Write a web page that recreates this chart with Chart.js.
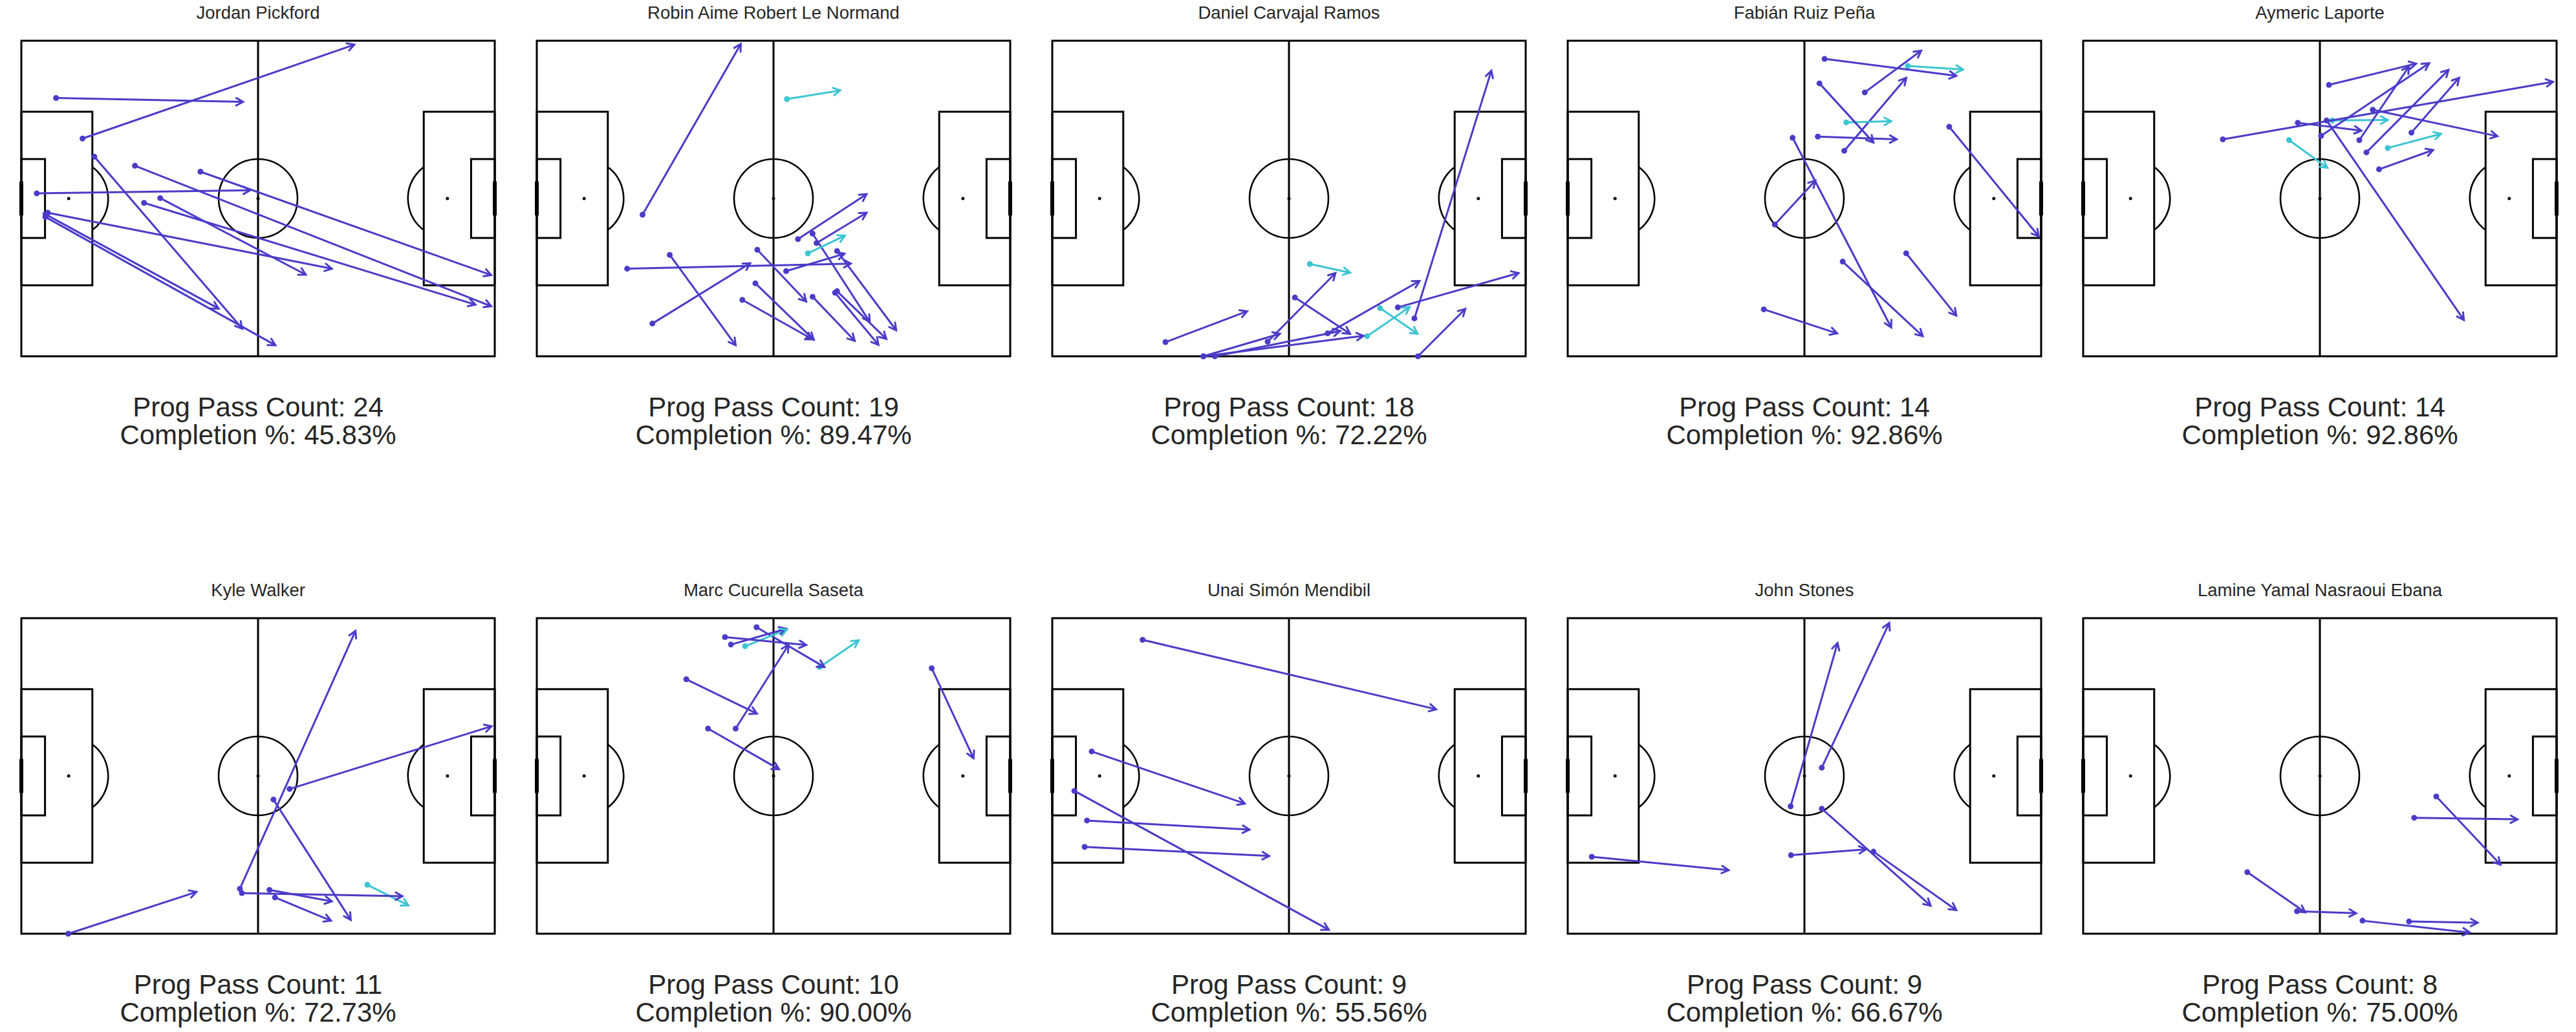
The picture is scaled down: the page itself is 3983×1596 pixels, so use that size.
<!DOCTYPE html>
<html>
<head>
<meta charset="utf-8">
<script src="https://cdn.jsdelivr.net/npm/chart.js@4.4.1/dist/chart.umd.min.js"></script>
<style>
  html, body { margin: 0; padding: 0; background: #fff; }
  body { width: 3983px; height: 1596px; position: relative; overflow: hidden; font-family: "Liberation Sans", Arial, sans-serif; color: #262626; }
  .title { position: absolute; width: 760px; text-align: center; font-size: 27.5px; line-height: 27.5px; white-space: nowrap; }
  .stats { position: absolute; width: 760px; text-align: center; font-size: 42px; line-height: 43px; white-space: nowrap; }
  canvas { position: absolute; }
</style>
</head>
<body>
<script>
// players in plot order (row by row)
const players = [
  "Jordan Pickford", "Robin Aime Robert Le Normand", "Daniel Carvajal Ramos",
  "Fabián Ruiz Peña", "Aymeric Laporte", "Kyle Walker", "Marc Cucurella Saseta",
  "Unai Simón Mendibil", "John Stones", "Lamine Yamal Nasraoui Ebana"
];
const progPassCounts = [24, 19, 18, 14, 14, 11, 10, 9, 9, 8];
const completionPcts = [45.83, 89.47, 72.22, 92.86, 92.86, 72.73, 90.00, 55.56, 66.67, 75.00];

// completed progressive passes: [x, y, endX, endY, kind]  (kind 1 = cyan)
const pickfordPasses = [
  [8.8, 14.5, 56.2, 15.5, 0], [15.5, 24.8, 84.4, 1.0, 0], [18.5, 29.4, 56.0, 73.0, 0],
  [3.9, 38.7, 58.0, 37.9, 0], [28.8, 31.7, 119.1, 67.3, 0], [45.4, 33.2, 119.1, 59.4, 0],
  [35.2, 39.9, 72.1, 59.3, 0], [31.1, 41.1, 115.1, 66.9, 0], [6.7, 43.6, 78.7, 57.8, 0],
  [6.1, 44.0, 50.0, 67.9, 0], [6.1, 44.7, 64.4, 77.2, 0]
];
const leNormandPasses = [
  [26.8, 44.1, 51.7, 0.8, 0], [63.4, 14.8, 76.9, 12.6, 1], [66.2, 50.3, 83.6, 38.9, 0],
  [70.9, 51.3, 83.6, 43.6, 0], [68.7, 53.9, 78.1, 49.4, 1], [69.9, 48.9, 84.4, 71.3, 0],
  [76.1, 53.3, 91.1, 73.4, 0], [63.2, 58.4, 78.0, 54.0, 0], [22.9, 57.8, 79.6, 56.5, 0],
  [29.3, 71.7, 54.1, 56.4, 0], [33.7, 54.3, 50.4, 77.2, 0], [55.9, 53.0, 68.3, 66.1, 0],
  [55.4, 61.5, 70.2, 75.8, 0], [52.1, 65.7, 69.9, 75.7, 0], [69.9, 64.9, 80.6, 76.1, 0],
  [75.6, 63.9, 86.6, 77.1, 0], [76.1, 63.5, 88.6, 75.6, 0]
];
const carvajalPasses = [
  [28.7, 76.4, 49.4, 68.6, 0], [54.6, 76.3, 71.8, 58.9, 0], [65.3, 56.6, 75.5, 58.8, 1],
  [69.8, 74.2, 93.1, 60.9, 0], [91.8, 70.4, 111.3, 7.6, 0], [87.6, 67.6, 118.2, 58.9, 0],
  [92.7, 80.0, 104.7, 68.0, 0], [79.8, 74.9, 90.6, 67.5, 1], [83.1, 67.8, 92.6, 74.3, 1],
  [61.5, 65.1, 75.5, 74.3, 0], [38.3, 80.0, 57.7, 74.3, 0], [41.2, 80.0, 73.0, 73.6, 0],
  [38.3, 80.0, 78.9, 74.8, 0]
];
const ruizPasses = [
  [65.1, 4.6, 98.5, 8.9, 0], [75.3, 13.1, 89.6, 2.5, 0], [86.2, 6.4, 100.2, 7.3, 1],
  [63.8, 10.8, 77.5, 25.8, 0], [70.6, 20.7, 82.0, 20.4, 1], [63.4, 24.3, 83.4, 25.0, 0],
  [70.1, 27.9, 85.8, 9.4, 0], [57.0, 24.6, 82.0, 72.7, 0], [52.5, 46.6, 62.8, 35.4, 0],
  [96.7, 21.8, 119.4, 49.6, 0], [85.8, 53.9, 98.5, 69.7, 0], [69.7, 56.0, 90.0, 74.9, 0],
  [49.7, 68.1, 68.3, 74.2, 0]
];
const laportePasses = [
  [62.3, 11.2, 84.4, 5.8, 0], [60.3, 24.1, 87.7, 5.7, 0], [70.0, 25.2, 82.6, 6.5, 0],
  [71.8, 28.3, 92.6, 7.4, 0], [83.2, 23.3, 95.3, 9.4, 0], [35.4, 25.0, 119.1, 10.4, 0],
  [73.4, 17.5, 105.0, 24.2, 0], [63.1, 20.2, 77.2, 20.1, 1], [54.4, 20.8, 70.5, 22.8, 0],
  [77.2, 27.2, 90.7, 23.6, 1], [75.0, 32.6, 88.7, 27.7, 0], [52.2, 25.2, 61.9, 32.2, 1],
  [61.7, 20.2, 96.5, 70.8, 0]
];
const walkerPasses = [
  [11.9, 80.0, 44.4, 69.4, 0], [55.4, 68.6, 84.7, 3.2, 0], [68.0, 43.3, 119.2, 27.4, 0],
  [55.9, 69.7, 96.6, 70.5, 0], [62.9, 68.9, 78.7, 71.8, 0], [64.3, 70.8, 78.5, 76.7, 0],
  [63.9, 46.0, 83.5, 76.5, 0], [87.7, 67.6, 98.1, 72.8, 1]
];
const cucurellaPasses = [
  [49.2, 6.7, 63.2, 2.7, 0], [47.7, 4.8, 68.3, 6.8, 0], [52.8, 7.1, 63.4, 2.9, 1],
  [55.7, 2.3, 72.9, 12.4, 0], [71.7, 12.4, 81.6, 5.6, 1], [37.9, 15.5, 55.8, 24.2, 0],
  [50.4, 28.0, 63.8, 6.8, 0], [43.4, 28.0, 61.4, 38.3, 0], [100.1, 12.7, 110.7, 35.5, 0]
];
const simonPasses = [
  [22.9, 5.5, 97.3, 23.1, 0], [10.0, 33.8, 48.8, 47.0, 0], [5.6, 43.8, 70.1, 79.0, 0],
  [8.8, 51.3, 50.0, 53.6, 0], [8.2, 58.0, 55.0, 60.3, 0]
];
const stonesPasses = [
  [56.5, 47.7, 68.4, 6.3, 0], [64.4, 37.9, 81.5, 1.2, 0], [64.4, 48.3, 92.0, 72.9, 0],
  [77.5, 59.2, 98.5, 74.0, 0], [56.6, 60.1, 75.6, 58.6, 0], [6.1, 60.5, 40.8, 63.9, 0]
];
const yamalPasses = [
  [89.5, 45.2, 105.8, 62.5, 0], [83.9, 50.6, 110.1, 51.0, 0], [41.6, 64.4, 56.3, 74.6, 0],
  [54.2, 74.3, 69.2, 74.8, 0], [70.8, 76.7, 98.0, 79.7, 0], [82.6, 76.9, 100.0, 77.2, 0]
];

const passSets = [
  pickfordPasses, leNormandPasses, carvajalPasses, ruizPasses, laportePasses,
  walkerPasses, cucurellaPasses, simonPasses, stonesPasses, yamalPasses
];
const passColors = ["#4b3bc8", "#3cc5d2"];

// panel layout (px)
const PITCH_W = 732, PITCH_H = 488, PAD = 16;
const COL_STEP = 797, ROW_STEP = 893;
const FIRST_LEFT = 33, FIRST_TOP = 63;

// pitch markings drawn in data units (StatsBomb 120 x 80)
const pitchPlugin = {
  id: "pitch",
  beforeDatasetsDraw(chart) {
    const { ctx } = chart;
    const xs = chart.scales.x, ys = chart.scales.y;
    const px = v => xs.getPixelForValue(v);
    const py = v => ys.getPixelForValue(v);
    const unit = px(1) - px(0);

    ctx.save();
    ctx.strokeStyle = "#000";
    ctx.lineWidth = 3;
    ctx.lineJoin = "miter";

    const rect = (x0, y0, x1, y1) => {
      ctx.strokeRect(px(x0), py(y0), px(x1) - px(x0), py(y1) - py(y0));
    };
    rect(0, 0, 120, 80);
    rect(0, 18, 18, 62);
    rect(102, 18, 120, 62);
    rect(0, 30, 6, 50);
    rect(114, 30, 120, 50);

    ctx.beginPath();
    ctx.moveTo(px(60), py(0));
    ctx.lineTo(px(60), py(80));
    ctx.stroke();

    ctx.lineWidth = 2.6;
    ctx.beginPath();
    ctx.arc(px(60), py(40), 10 * unit, 0, Math.PI * 2);
    ctx.stroke();

    const a = Math.acos(6 / 10);
    ctx.beginPath();
    ctx.arc(px(12), py(40), 10 * unit, -a, a);
    ctx.stroke();
    ctx.beginPath();
    ctx.arc(px(108), py(40), 10 * unit, Math.PI - a, Math.PI + a);
    ctx.stroke();

    // goals
    ctx.lineWidth = 6;
    ctx.lineCap = "round";
    ctx.beginPath();
    ctx.moveTo(px(0), py(36)); ctx.lineTo(px(0), py(44));
    ctx.moveTo(px(120), py(36)); ctx.lineTo(px(120), py(44));
    ctx.stroke();

    // spots
    ctx.fillStyle = "#000";
    [12, 60, 108].forEach(sx => {
      ctx.beginPath();
      ctx.arc(px(sx), py(40), 2.5, 0, Math.PI * 2);
      ctx.fill();
    });
    ctx.restore();
  }
};

// open arrow heads at the end point of every pass
const arrowPlugin = {
  id: "arrowHeads",
  afterDatasetsDraw(chart) {
    const { ctx } = chart;
    chart.data.datasets.forEach((ds, i) => {
      const pts = chart.getDatasetMeta(i).data;
      if (pts.length < 2) return;
      const x0 = pts[0].x, y0 = pts[0].y, x1 = pts[1].x, y1 = pts[1].y;
      const ang = Math.atan2(y1 - y0, x1 - x0);
      const len = 12, spread = 0.5;
      ctx.save();
      ctx.strokeStyle = ds.borderColor;
      ctx.lineWidth = 3;
      ctx.lineCap = "round";
      ctx.beginPath();
      ctx.moveTo(x1 - len * Math.cos(ang - spread), y1 - len * Math.sin(ang - spread));
      ctx.lineTo(x1, y1);
      ctx.lineTo(x1 - len * Math.cos(ang + spread), y1 - len * Math.sin(ang + spread));
      ctx.stroke();
      ctx.restore();
    });
  }
};

function createPassMap(idx) {
  const col = idx % 5, row = Math.floor(idx / 5);
  const left = FIRST_LEFT + col * COL_STEP;
  const top = FIRST_TOP + row * ROW_STEP;
  const centre = left + PITCH_W / 2;

  const title = document.createElement("div");
  title.className = "title";
  title.style.left = (centre - 380) + "px";
  title.style.top = (6 + row * ROW_STEP) + "px";
  title.textContent = players[idx];
  document.body.appendChild(title);

  const stats = document.createElement("div");
  stats.className = "stats";
  stats.style.left = (centre - 380) + "px";
  stats.style.top = (608 + row * ROW_STEP) + "px";
  stats.innerHTML = "Prog Pass Count: " + progPassCounts[idx] +
    "<br>Completion %: " + completionPcts[idx].toFixed(2) + "%";
  document.body.appendChild(stats);

  const canvas = document.createElement("canvas");
  const w = PITCH_W + PAD * 2, h = PITCH_H + PAD * 2;
  canvas.width = w; canvas.height = h;
  canvas.style.width = w + "px"; canvas.style.height = h + "px";
  canvas.style.left = (left - PAD) + "px";
  canvas.style.top = (top - PAD) + "px";
  document.body.appendChild(canvas);

  const datasets = passSets[idx].map(p => ({
    data: [{ x: p[0], y: p[1] }, { x: p[2], y: p[3] }],
    showLine: true,
    borderColor: passColors[p[4]],
    backgroundColor: passColors[p[4]],
    borderWidth: 3,
    pointRadius: [4.5, 0],
    pointHoverRadius: 0,
    pointBorderWidth: 0,
    clip: false
  }));

  new Chart(canvas.getContext("2d"), {
    type: "scatter",
    data: { datasets },
    options: {
      responsive: false,
      animation: false,
      devicePixelRatio: 1,
      layout: { padding: PAD },
      events: [],
      plugins: { legend: { display: false }, tooltip: { enabled: false } },
      scales: {
        x: { type: "linear", min: 0, max: 120, display: false },
        y: { type: "linear", min: 0, max: 80, reverse: true, display: false }
      }
    },
    plugins: [pitchPlugin, arrowPlugin]
  });
}

players.forEach((_, i) => createPassMap(i));
</script>
</body>
</html>
